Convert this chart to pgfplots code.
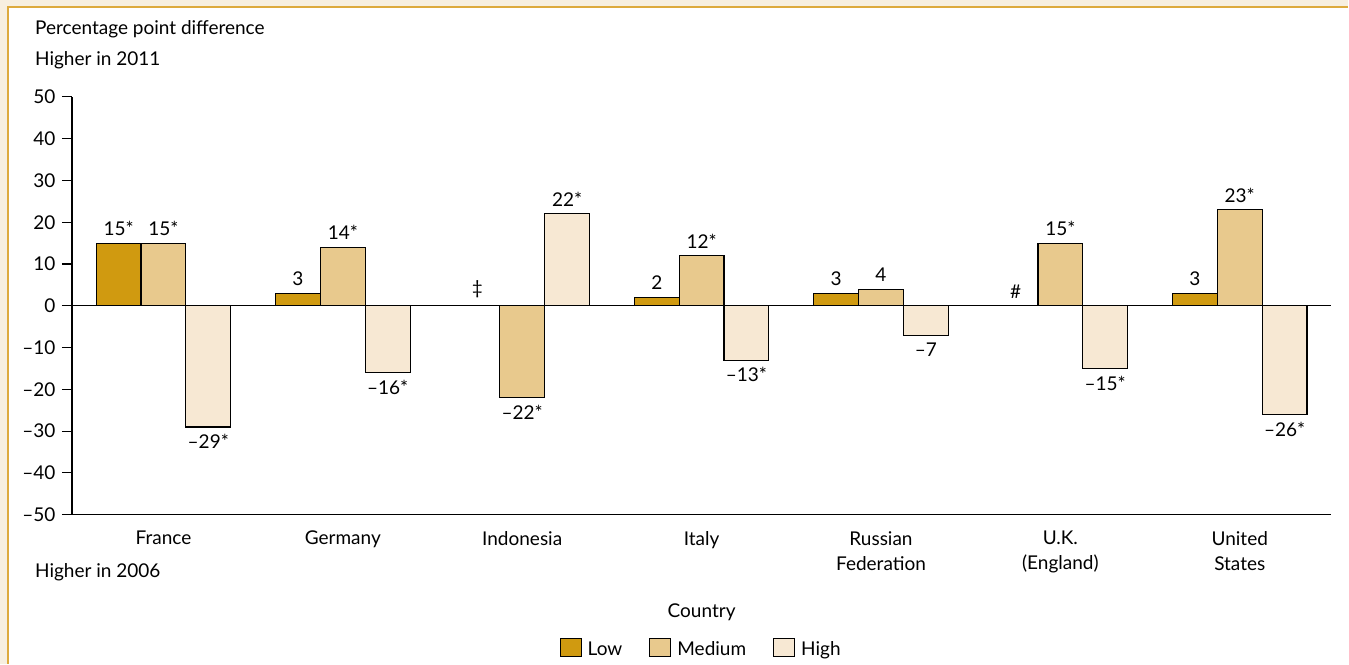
\documentclass[border=0pt]{standalone}
\usepackage{pgfplots}
\usepackage{pgfplotstable}
\pgfplotsset{compat=1.18}
\usepackage{fontspec}
\setmainfont{Lato}
\definecolor{lowc}{HTML}{D09A10}
\definecolor{medc}{HTML}{E8C98D}
\definecolor{highc}{HTML}{F7E8D3}
\definecolor{bandc}{HTML}{F7EFDF}
\definecolor{goldline}{HTML}{DDAA3C}

% Low (all non-negative)
\pgfplotstableread{
x y label
0 15 15*
1 3 3
3 2 2
4 3 3
6 3 3
}\lowtab
% Medium, positive values
\pgfplotstableread{
x y label
0 15 15*
1 14 14*
3 12 12*
4 4 4
5 15 15*
6 23 23*
}\medpos
% Medium, negative values
\pgfplotstableread{
x y label
2 -22 –22*
}\medneg
% High, positive values
\pgfplotstableread{
x y label
2 22 22*
}\highpos
% High, negative values
\pgfplotstableread{
x y label
0 -29 –29*
1 -16 –16*
3 -13 –13*
4 -7 –7
5 -15 –15*
6 -26 –26*
}\highneg

\newcommand{\fs}{\fontsize{19bp}{25bp}\selectfont}
\begin{document}
\fs
\begin{tikzpicture}[x=1bp,y=1bp]
\fill[bandc] (0,0) rectangle (1349,664);
\fill[white] (9,0) rectangle (1349,656);
\draw[goldline, line width=1.6bp] (8.3,0) -- (8.3,656.7) -- (1349,656.7);
\useasboundingbox (0,0) rectangle (1349,664);

\node[anchor=base west, inner sep=0] at (35,629) {Percentage point difference};
\node[anchor=base west, inner sep=0] at (35,598) {Higher in 2011};
\node[anchor=base west, inner sep=0] at (35,86) {Higher in 2006};
\node[anchor=base, inner sep=0] at (702,46) {Country};

\begin{axis}[
  at={(72bp,149bp)}, anchor=south west,
  scale only axis, width=1260bp, height=418bp,
  xmin=-0.51, xmax=6.51, ymin=-50, ymax=50,
  axis x line=bottom, axis y line=left,
  axis line style={black, line width=1.1bp, -},
  ybar, bar width=0.25,
  ytick={-50,-40,...,50},
  yticklabels={–50,–40,–30,–20,–10,0,10,20,30,40,50},
  major tick length=10bp, tick align=outside,
  y tick style={black, line width=1.1bp},
  xtick={0,...,6},
  x tick style={draw=none},
  xticklabels={France,Germany,Indonesia,Italy,{Russian\\Federation},{U.K.\\(England)},{United\\States}},
  xticklabel style={align=center, font=\fs},
  yticklabel style={font=\fs},
  every axis plot/.append style={draw=black, line width=1.1bp,
    legend image code/.code={\draw[##1, line width=1.1bp] (0bp,-7bp) rectangle (21bp,11bp);}},
  nodes near coords,
  point meta=explicit symbolic,
  every node near coord/.append style={font=\fs, inner sep=7bp, text=black, draw=none, fill=none},
  legend columns=3,
  legend style={at={(0.5,-0.323)}, anchor=center, draw=none, fill=none,
    font=\fs,
    /tikz/every odd column/.append style={column sep=3bp},
    /tikz/every even column/.append style={column sep=24bp},
    nodes={inner sep=3bp}},
]
\addplot[fill=lowc, bar shift=-0.25,
  every node near coord/.append style={anchor=south}] table[x=x,y=y,meta=label] {\lowtab};
\addlegendentry{Low}
\addplot[fill=medc, bar shift=0,
  every node near coord/.append style={anchor=south}] table[x=x,y=y,meta=label] {\medpos};
\addlegendentry{Medium}
\addplot[fill=highc, bar shift=0.25,
  every node near coord/.append style={anchor=north}] table[x=x,y=y,meta=label] {\highneg};
\addlegendentry{High}
\addplot[fill=medc, bar shift=0, forget plot,
  every node near coord/.append style={anchor=north}] table[x=x,y=y,meta=label] {\medneg};
\addplot[fill=highc, bar shift=0.25, forget plot,
  every node near coord/.append style={anchor=south}] table[x=x,y=y,meta=label] {\highpos};
\addplot[draw=none, fill=none, bar shift=-0.25, forget plot,
  every node near coord/.append style={anchor=south}] coordinates {(2,0) [‡] (5,0) [\#]};
\draw[black, line width=1.1bp] (axis cs:-0.51,0) -- (axis cs:6.51,0);
\end{axis}
\end{tikzpicture}
\end{document}
